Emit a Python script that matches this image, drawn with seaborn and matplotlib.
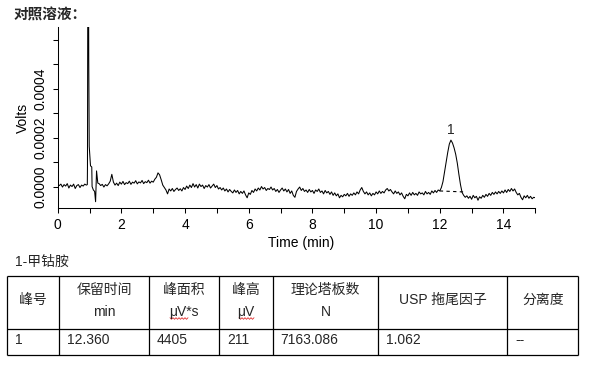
import numpy as np
import pandas as pd
import matplotlib
matplotlib.use('Agg')
import matplotlib.pyplot as plt
import seaborn as sns

# Chromatogram trace (microvolts)
early_start, early_step = 0.05, 0.05
early_uv = [4, 10, -2, 8, 2, 12, -6, 6, 0, 10, -8, 4, 8, -4, 6, 2, 10, 6]

# solvent front around 1 min, its top runs off the scale
front_t = [0.93, 0.935, 0.955, 0.975, 0.99, 1.03, 1.07, 1.08, 1.12, 1.16, 1.19, 1.22, 1.26]
front_uv = [8, 80, 1500, 520, 165, 85, 80, 0, -14, -20, -62, 64, 14]

main_start, main_step = 1.30, 0.05
main_uv = [
    12, 4, 9, -2, 8, 3, 11, 22, 50, 18,                 # 1.30
    6, 14, 4, 18, 10, 21, 8, 16, 12, 22,                # 1.80
    9, 18, 14, 24, 11, 19, 15, 25, 12, 20,              # 2.30
    16, 26, 14, 22, 18, 30, 38, 56, 48, 28,             # 2.80
    6, -4, -14, -30, -10, -18, -8, -20, -12, -6,        # 3.30
    -16, -9, -18, -4, -12, 2, -8, 6, -4, 12,            # 3.80
    -2, 8, -6, 10, 0, 6, -8, 4, -2, 8,                  # 4.30
    -6, 2, 10, -4, 4, -10, -4, -14, -6, -18,            # 4.80
    -10, -22, -12, -20, -26, -14, -24, -16, -30, -20,   # 5.30
    -28, -18, -34, -46, -26, -32, -16, -24, -10, -18,   # 5.80
    -6, -14, 0, -10, -4, -16, -8, -12, -2, -14,         # 6.30
    -8, -20, -12, -24, -14, -6, -18, -10, -22, -12,     # 6.80
    -28, -18, -36, -44, -20, -10, -2, -16, -8, -20,     # 7.30
    -14, -24, -12, -22, -16, -28, -14, -20, -10, -24,   # 7.80
    -18, -30, -16, -26, -20, -32, -22, -36, -26, -38,   # 8.30
    -30, -46, -36, -42, -32, -38, -28, -40, -30, -36,   # 8.80
    -26, -34, -22, -30, -14, -4, -20, -30, -22, -34,    # 9.30
    -26, -38, -28, -34, -22, -30, -18, -28, -20, -26,   # 9.80
    -14, -8, -18, -12, -22, -30, -18, -28, -22, -34,    # 10.30
    -26, -40, -50, -32, -38, -26, -36, -24, -34, -28,   # 10.80
    -36, -22, -30, -26, -34, -20, -30, -24, -32, -18,   # 11.30
    -26, -16, -24, -14, -18, -4, 20, 60, 102, 140,      # 11.80
    174, 190, 178, 158, 132, 96, 50, 8, -24, -36,       # 12.30
    -44, -38, -48, -40, -52, -36, -46, -40, -56, -42,   # 12.80
    -48, -36, -44, -32, -40, -28, -36, -24, -32, -22,   # 13.30
    -30, -20, -28, -18, -26, -14, -24, -12, -20, -8,    # 13.80
    -18, -10, -24, -34, -28, -44, -54, -38, -46, -36,   # 14.30
    -48, -40, -50, -44, -46,                            # 14.80
]

# integrated peak
peak_label = '1'
peak_rt = 12.36
peak_top_uv = 190
peak_base_t = [12.0, 12.75]
peak_base_uv = [-18, -22]

x_ticks = list(range(0, 16))
y_ticks_v = [0.0, 0.0001, 0.0002, 0.0003, 0.0004, 0.0005, 0.0006]
y_tick_labels = ['0.0000', '', '0.0002', '', '0.0004', '', '']

title = '对照溶液：'
table_title = '1-甲钴胺'
col_headers = [['峰号'], ['保留时间', 'min'], ['峰面积', 'μV*s'], ['峰高', 'μV'],
               ['理论塔板数', 'N'], ['USP 拖尾因子'], ['分离度']]
row_values = ['1', '12.360', '4405', '211', '7163.086', '1.062', '--']

# build the trace
early_t = early_start + early_step * np.arange(len(early_uv))
main_t = main_start + main_step * np.arange(len(main_uv))
trace = pd.DataFrame({
    'time': np.concatenate([early_t, front_t, main_t]),
    'volts': np.concatenate([early_uv, front_uv, main_uv]) * 1e-6,
})

sns.set_style('ticks')
plt.rcParams['font.family'] = ['Liberation Sans', 'Noto Sans CJK SC', 'DejaVu Sans']
plt.rcParams['axes.linewidth'] = 0.75

W, H = 591, 365
fig = plt.figure(figsize=(W / 100, H / 100), dpi=100)
ax = fig.add_axes([57.7 / W, 1 - 208.3 / H, (535.3 - 57.7) / W, (208.3 - 27) / H])

sns.lineplot(data=trace, x='time', y='volts', estimator=None, sort=False,
             color='black', lw=0.75, ax=ax)
ax.plot(peak_base_t, np.array(peak_base_uv) * 1e-6, color='black', lw=0.8,
        ls=(0, (3, 3)))
ax.annotate(peak_label, xy=(peak_rt, peak_top_uv * 1e-6), xytext=(0, 7.5),
            textcoords='offset points', ha='center', va='center', fontsize=10)

ax.set_xlim(0, 15)
ax.set_ylim(-89e-6, 653e-6)
ax.set_xticks(x_ticks)
ax.set_xticklabels([str(v) if v % 2 == 0 else '' for v in x_ticks])
ax.set_yticks(y_ticks_v)
ax.set_yticklabels(y_tick_labels, rotation=90, va='center')
ax.tick_params(direction='out', length=3.6, width=0.75, color='black',
               labelsize=10, labelcolor='black')
ax.tick_params(axis='x', pad=3.5)
ax.tick_params(axis='y', pad=3.4)
sns.despine(ax=ax)
for s in ['left', 'bottom']:
    ax.spines[s].set_color('black')

ax.set_xlabel('Time (min)', fontsize=10, color='black')
ax.xaxis.set_label_coords((301 - 57.7) / 477.6, (208.3 - 242.7) / 181.3)
ax.xaxis.label.set_va('center')
ax.set_ylabel('Volts', fontsize=10, color='black')
ax.yaxis.set_label_coords((23 - 57.7) / 477.6, 0.5)
ax.yaxis.label.set_va('center')

fig.text(13.3 / W, 1 - 15 / H, title, fontsize=10.5, fontweight='bold',
         va='center', ha='left', family=['Noto Sans CJK SC', 'DejaVu Sans'])

# results table drawn in pixel space
tab = fig.add_axes([0, 0, 1, 1])
tab.set_xlim(0, W)
tab.set_ylim(H, 0)
tab.axis('off')

col_edges = [6.7, 59.3, 148.7, 219.3, 272.7, 378.3, 507.3, 578.3]
row_edges = [276, 329.3, 355.3]
tab.text(15, 262, table_title, fontsize=10, va='center', ha='left')
for x in col_edges:
    tab.vlines(x, row_edges[0], row_edges[-1], color='black', lw=0.9)
for y in row_edges:
    tab.hlines(y, col_edges[0], col_edges[-1], color='black', lw=0.9)

for i, head in enumerate(col_headers):
    xc = (col_edges[i] + col_edges[i + 1]) / 2
    if len(head) == 1:
        tab.text(xc, 300, head[0], fontsize=10, ha='center', va='center')
    else:
        tab.text(xc, 290, head[0], fontsize=10, ha='center', va='center')
        tab.text(xc, 312.3, head[1], fontsize=10, ha='center', va='center')
    tab.text(col_edges[i] + 8, 340, row_values[i], fontsize=10, ha='left',
             va='center')

# spell-check squiggles under the unit text
for x0, x1 in [(170, 188), (239, 255)]:
    xs = np.arange(x0, x1 + 0.1, 1.5)
    ys = 318.5 + np.where(np.arange(len(xs)) % 2 == 0, -0.8, 0.8)
    tab.plot(xs, ys, color='#e03030', lw=0.6)

fig.savefig('out.png', dpi=100)
